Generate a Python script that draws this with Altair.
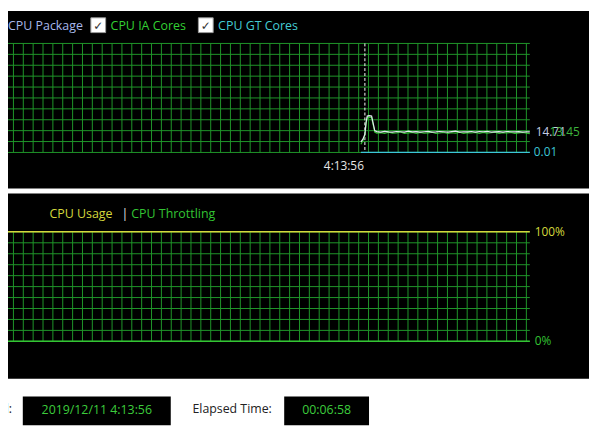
import altair as alt
import pandas as pd

# ---------------- data ----------------
start_label = "2019/12/11 4:13:56"
start_clock = "4:13:56"
elapsed_label = "00:06:58"

# elapsed seconds since start
t_top = [-10, -5, 0, 3, 6, 11, 17, 25,
         30, 40, 50, 60, 70, 80, 90, 100, 110, 120, 130, 140, 150, 160, 170,
         180, 190, 200, 210, 220, 230, 240, 250, 260, 270, 280, 290, 300, 310,
         320, 330, 340, 350, 360, 370, 380, 390, 400, 410, 418]
cpu_package = [7.6, 9.5, 13.0, 21.5, 26.0, 26.3, 26.0, 15.6,
               14.9, 14.6, 15.1, 14.7, 14.5, 15.0, 14.8, 14.6, 15.2, 14.7, 14.9, 14.5, 14.8, 15.1, 14.6,
               14.7, 15.0, 14.8, 14.5, 14.9, 15.2, 14.6, 14.8, 14.7, 15.0, 14.6, 14.9, 14.8, 15.1,
               14.5, 14.7, 14.9, 14.6, 15.0, 14.8, 14.7, 14.9, 14.6, 14.8, 14.71]
cpu_ia = [5.8, 8.6, 12.2, 20.6, 25.0, 25.2, 25.0, 14.6,
          13.9, 14.2, 13.6, 14.5, 13.8, 13.9, 14.6, 13.7, 14.0, 14.4, 13.6, 14.3, 13.8, 14.0, 14.5,
          13.7, 13.9, 14.4, 13.6, 14.1, 13.8, 14.5, 13.7, 14.2, 13.9, 14.4, 13.6, 14.3, 13.8,
          14.1, 14.5, 13.7, 14.2, 13.9, 14.3, 13.6, 14.0, 14.4, 13.8, 13.45]
cpu_gt = [0.01] * len(t_top)

t_bottom = [-924.5, 418]
cpu_usage = [100, 100]
cpu_throttling = [0, 0]

grid_top_vals = [0, 7.8, 15.6, 23.4, 31.2, 39.0, 46.8, 54.6, 62.4, 70.2, 78.0]
grid_bot_vals = [0, 10, 20, 30, 40, 50, 60, 70, 80, 90, 100]
grid_t = [-915.75 + 25 * k for k in range(54)]

# ---------------- styles ----------------
W, H = 589, 427
FONT = "Open Sans"
GRID = "#1f962a"
C_PKG_LINE = "#e4e8f2"
C_PKG_TXT = "#a8b8ec"
C_IA = "#2fc02f"
C_IA_TXT = "#33d033"
C_GT = "#3cc6d6"
C_USAGE = "#d4d83c"
C_THR = "#33c433"
LEG = 12.6

x_top = alt.Scale(domain=[-924.5, 418], range=[-8, 529])
y_top = alt.Scale(domain=[0, 78], range=[143.5, 33])
y_bot = alt.Scale(domain=[0, 100], range=[335, 224])

one = alt.Data(values=[{"a": 1}])


def rect(x, x2, y, y2, fill, stroke=None):
    kw = {}
    if stroke:
        kw = dict(stroke=stroke, strokeWidth=1)
    return alt.Chart(one).mark_rect(fill=fill, **kw).encode(
        x=alt.value(x), x2=alt.value(x2), y=alt.value(y), y2=alt.value(y2))


def label(txt, x, y, color, size=12, align="left", font=FONT):
    return alt.Chart(one).mark_text(text=txt, align=align, baseline="middle",
                                    color=color, fontSize=size, font=font).encode(
        x=alt.value(x), y=alt.value(y))


layers = []
# panels
layers.append(rect(0, W, 0, 180, "black"))
layers.append(rect(0, W, 185, 373, "black"))
layers.append(rect(15, 165, 391, 420, "black"))
layers.append(rect(280, 366, 391, 420, "black"))

# top grid
gt_df = pd.DataFrame({"t": grid_t})
layers.append(alt.Chart(gt_df).mark_rule(color=GRID, strokeWidth=1).encode(
    x=alt.X("t:Q", scale=x_top, axis=None), y=alt.value(33), y2=alt.value(143.5)))
layers.append(alt.Chart(pd.DataFrame({"v": grid_top_vals})).mark_rule(color=GRID, strokeWidth=1).encode(
    y=alt.Y("v:Q", scale=y_top, axis=None), x=alt.value(0), x2=alt.value(529)))
# bottom grid
layers.append(alt.Chart(gt_df).mark_rule(color=GRID, strokeWidth=1).encode(
    x=alt.X("t:Q", scale=x_top, axis=None), y=alt.value(224), y2=alt.value(335)))
layers.append(alt.Chart(pd.DataFrame({"v": grid_bot_vals})).mark_rule(color=GRID, strokeWidth=1).encode(
    y=alt.Y("v:Q", scale=y_bot, axis=None), x=alt.value(0), x2=alt.value(529)))

# start marker
start_df = pd.DataFrame({"t": [0], "lab": [start_clock]})
layers.append(alt.Chart(start_df).mark_rule(color="white", strokeWidth=1, strokeDash=[3, 2]).encode(
    x=alt.X("t:Q", scale=x_top, axis=None), y=alt.value(33), y2=alt.value(144)))
layers.append(alt.Chart(start_df).mark_text(align="right", baseline="middle", color="#e6e6e6",
                                            fontSize=12, font=FONT, dx=-1).encode(
    x=alt.X("t:Q", scale=x_top, axis=None), y=alt.value(157), text="lab:N"))

# top series
top_df = pd.DataFrame({"t": t_top, "pkg": cpu_package, "ia": cpu_ia, "gt": cpu_gt})
for col, colr in [("gt", C_GT), ("ia", C_IA), ("pkg", C_PKG_LINE)]:
    layers.append(alt.Chart(top_df).mark_line(color=colr, strokeWidth=1.2, interpolate="linear").encode(
        x=alt.X("t:Q", scale=x_top, axis=None), y=alt.Y(f"{col}:Q", scale=y_top, axis=None)))

# bottom series
bot_df = pd.DataFrame({"t": t_bottom, "usage": cpu_usage, "thr": cpu_throttling})
for col, colr in [("thr", C_THR), ("usage", C_USAGE)]:
    layers.append(alt.Chart(bot_df).mark_line(color=colr, strokeWidth=1.5).encode(
        x=alt.X("t:Q", scale=x_top, axis=None), y=alt.Y(f"{col}:Q", scale=y_bot, axis=None)))

# right-side value labels
def last_label(val, fmt, x, scale, color, dy=0):
    df = pd.DataFrame({"v": [val], "lab": [fmt.format(val)]})
    return alt.Chart(df).mark_text(align="left", baseline="middle", color=color,
                                   fontSize=12, font=FONT, dy=dy).encode(
        x=alt.value(x), y=alt.Y("v:Q", scale=scale, axis=None), text="lab:N")

layers.append(last_label(cpu_package[-1], "{:.2f}", 535, y_top, "#c4cce4"))
layers.append(last_label(cpu_ia[-1], "{:.2f}", 549, y_top, "#3cb43c", dy=-2))
layers.append(last_label(cpu_gt[-1], "{:.2f}", 533, y_top, C_GT))
layers.append(last_label(cpu_usage[-1], "{:.0f}%", 534, y_bot, C_USAGE))
layers.append(last_label(cpu_throttling[-1], "{:.0f}%", 534, y_bot, C_THR))

# top legend
layers.append(label("CPU Package", 0, 15, C_PKG_TXT, size=LEG))
layers.append(rect(84, 99, 7, 22, "white", "#9a9a9a"))
layers.append(label("✓", 91.5, 15, "#333333", size=12, align="center", font="DejaVu Sans"))
layers.append(label("CPU IA Cores", 104, 15, C_IA_TXT, size=LEG))
layers.append(rect(193, 208, 7, 22, "white", "#9a9a9a"))
layers.append(label("✓", 200.5, 15, "#333333", size=12, align="center", font="DejaVu Sans"))
layers.append(label("CPU GT Cores", 213, 15, "#44ccd4", size=LEG))

# bottom legend
layers.append(label("CPU Usage", 42, 206, C_USAGE, size=LEG))
layers.append(label("|", 115, 206, "#e0e0e0", size=LEG))
layers.append(label("CPU Throttling", 125, 206, C_THR, size=LEG))

# footer
layers.append(label("Started:", 4, 404, "#222222", size=12.5, align="right"))
layers.append(label(start_label, 90, 405, "#3ccc3c", size=12.5, align="center"))
layers.append(label("Elapsed Time:", 187, 404, "#222222", size=12.5))
layers.append(label(elapsed_label, 323, 405, "#3ccc3c", size=12.5, align="center"))

chart = alt.layer(*layers).resolve_scale(x="independent", y="independent").properties(
    width=W, height=H, padding=0, autosize="none", background="white"
).configure_view(strokeWidth=0)

chart.save("out.html", embed_options={"renderer": "svg", "actions": False})
